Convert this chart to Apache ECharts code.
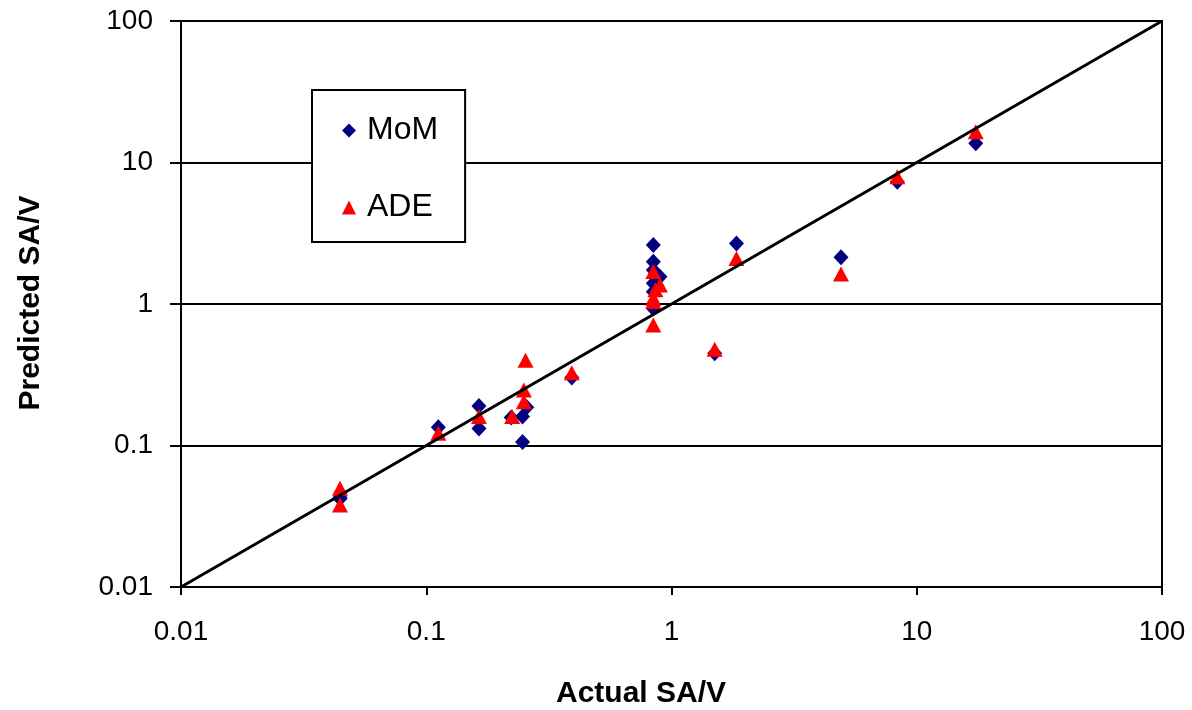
<!DOCTYPE html>
<html>
<head>
<meta charset="utf-8">
<script src="https://cdn.jsdelivr.net/npm/echarts@6/dist/echarts.min.js"></script>
<style>
html,body{margin:0;padding:0;background:#fff;}
#chart{width:1192px;height:710px;}
</style>
</head>
<body>
<div id="chart"></div>
<script>
// Data
var momX = [0.0445, 0.0445, 0.112, 0.164, 0.164, 0.222, 0.247, 0.257, 0.247, 0.392, 0.843, 0.843, 0.843, 0.897, 0.843, 0.843, 0.843, 1.50, 1.84, 4.91, 8.33, 17.4];
var momY = [0.043, 0.042, 0.1345, 0.19, 0.132, 0.158, 0.16, 0.186, 0.106, 0.303, 2.61, 1.99, 1.74, 1.56, 1.40, 1.22, 0.93, 0.448, 2.68, 2.14, 7.32, 13.7];
var adeX = [0.0445, 0.0445, 0.112, 0.164, 0.224, 0.254, 0.25, 0.25, 0.392, 0.843, 0.897, 0.86, 0.843, 0.843, 0.843, 1.50, 1.84, 4.91, 8.33, 17.4];
var adeY = [0.0499, 0.038, 0.122, 0.16, 0.16, 0.40, 0.247, 0.204, 0.327, 1.70, 1.36, 1.26, 1.10, 1.04, 0.71, 0.478, 2.10, 1.63, 7.94, 16.5];
var lineX = [0.01, 100];
var lineY = [0.01, 100];
var tickLabels = ['0.01', '0.1', '1', '10', '100'];
var seriesNames = ['MoM', 'ADE'];
var xTitle = 'Actual SA/V';
var yTitle = 'Predicted SA/V';

function zip(a, b) { return a.map(function (v, i) { return [v, b[i]]; }); }
function fmt(v) { var k = Math.round(Math.log10(v)) + 2; return tickLabels[k] !== undefined ? tickLabels[k] : ''; }

var FONT = 'Arial, "Liberation Sans", sans-serif';
var chart = echarts.init(document.getElementById('chart'), null, {renderer: 'canvas'});
chart.setOption({
  animation: false,
  backgroundColor: '#ffffff',
  textStyle: {fontFamily: FONT},
  grid: {left: 181, top: 21, right: 30, bottom: 123, show: true, borderColor: '#000', borderWidth: 2, backgroundColor: 'transparent'},
  xAxis: {
    type: 'log', logBase: 10, min: 0.01, max: 100,
    axisLine: {show: true, lineStyle: {color: '#000', width: 2}},
    axisTick: {show: true, inside: false, length: 8, lineStyle: {color: '#000', width: 2}},
    axisLabel: {color: '#000', fontSize: 28, fontFamily: FONT, margin: 31, formatter: fmt},
    splitLine: {show: false},
    minorTick: {show: false}
  },
  yAxis: {
    type: 'log', logBase: 10, min: 0.01, max: 100,
    axisLine: {show: true, lineStyle: {color: '#000', width: 2}},
    axisTick: {show: true, inside: false, length: 11, lineStyle: {color: '#000', width: 2}},
    axisLabel: {color: '#000', fontSize: 28, fontFamily: FONT, margin: 28, formatter: fmt},
    splitLine: {show: true, lineStyle: {color: '#000', width: 2}}
  },
  legend: {
    data: [
      {name: seriesNames[0], icon: 'diamond', itemStyle: {opacity: 1}},
      {name: seriesNames[1], icon: 'triangle', itemStyle: {opacity: 1}}
    ],
    orient: 'vertical',
    left: 312, top: 90,
    padding: [23, 27, 17, 30],
    itemGap: 42,
    itemWidth: 14, itemHeight: 14,
    borderColor: '#000', borderWidth: 2, borderRadius: 0,
    backgroundColor: '#fff',
    selectedMode: false,
    textStyle: {color: '#000', fontSize: 32, fontFamily: FONT, padding: [3, 0, 0, 6], lineHeight: 32}
  },
  series: [
    {
      name: seriesNames[0], type: 'scatter', symbol: 'diamond', symbolSize: [15, 16],
      itemStyle: {color: '#000080', opacity: 1}, z: 3,
      data: zip(momX, momY)
    },
    {
      name: seriesNames[1], type: 'scatter', symbol: 'triangle', symbolSize: [16, 15],
      itemStyle: {color: '#ff0000', opacity: 1}, z: 4,
      data: zip(adeX, adeY)
    },
    {
      name: 'diag', type: 'line', showSymbol: false, symbol: 'none', silent: true,
      lineStyle: {color: '#000', width: 3}, z: 5,
      data: zip(lineX, lineY)
    }
  ],
  graphic: [
    {type: 'text', x: 641, y: 694, style: {text: xTitle, font: 'bold 30px ' + FONT, fill: '#000', textAlign: 'center', textVerticalAlign: 'middle'}},
    {type: 'text', x: 31, y: 303, rotation: Math.PI / 2, style: {text: yTitle, font: 'bold 30px ' + FONT, fill: '#000', textAlign: 'center', textVerticalAlign: 'middle'}}
  ]
});
</script>
</body>
</html>
